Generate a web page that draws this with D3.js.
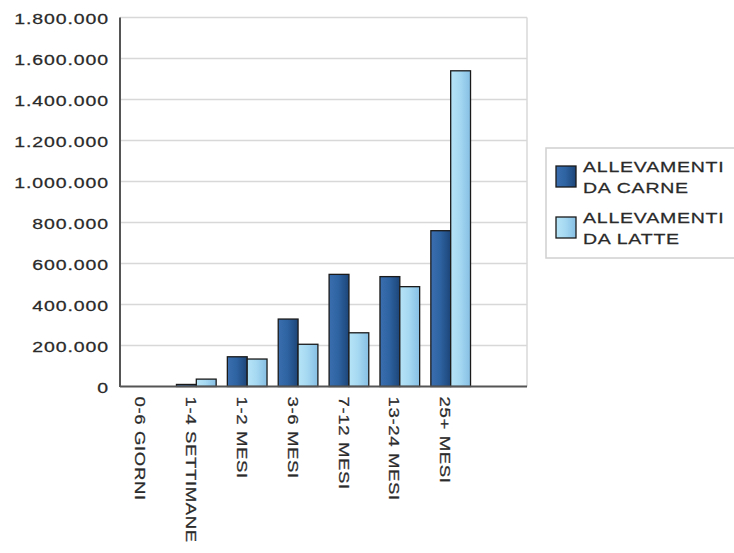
<!DOCTYPE html>
<html>
<head>
<meta charset="utf-8">
<script src="https://cdn.jsdelivr.net/npm/d3@7/dist/d3.min.js"></script>
<style>
  html, body { margin: 0; padding: 0; background: #fff; }
  svg text { font-family: "Liberation Sans", Arial, sans-serif; fill: #2a2a2a; stroke: #2a2a2a; stroke-width: 0.25; }
</style>
</head>
<body>
<svg id="chart" width="734" height="553"></svg>
<script>
// Capi bovini per classe di età
const categories = ["0-6 GIORNI", "1-4 SETTIMANE", "1-2 MESI", "3-6 MESI", "7-12 MESI", "13-24 MESI", "25+ MESI"];
const seriesNames = ["ALLEVAMENTI DA CARNE", "ALLEVAMENTI DA LATTE"];
const carne = [0, 10000, 145000, 329000, 547000, 536000, 760000];
const latte = [0, 36000, 134000, 206000, 262000, 487000, 1540000];
const yTicks = [0, 200000, 400000, 600000, 800000, 1000000, 1200000, 1400000, 1600000, 1800000];
const legendLines = [["ALLEVAMENTI", "DA CARNE"], ["ALLEVAMENTI", "DA LATTE"]];

const svg = d3.select("#chart");
const plot = { left: 120, right: 527, top: 17.5, bottom: 386.5 };
const textStretch = 1.3;

const it = d3.formatLocale({ decimal: ",", thousands: ".", grouping: [3], currency: ["€", ""] });
const fmt = it.format(",d");

// one empty slot after the last age class
const slots = categories.concat(["__"]);
const x = d3.scaleBand().domain(slots).range([plot.left, plot.right]).padding(0);
const xInner = d3.scaleBand().domain(seriesNames).range([0, x.bandwidth() * 0.78]).padding(0);
const y = d3.scaleLinear().domain([0, 1800000]).range([plot.bottom, plot.top]);

const defs = svg.append("defs");
function grad(id, stops) {
  const g = defs.append("linearGradient").attr("id", id).attr("x1", 0).attr("x2", 1).attr("y1", 0).attr("y2", 0);
  stops.forEach(([o, c]) => g.append("stop").attr("offset", o).attr("stop-color", c));
}
grad("gCarne", [[0, "#3a6eae"], [0.45, "#2f64a3"], [1, "#1c4578"]]);
grad("gLatte", [[0, "#b6e4f7"], [0.45, "#a6d9f2"], [1, "#86bfe4"]]);
const fills = ["url(#gCarne)", "url(#gLatte)"];

// grid and frame
svg.append("g").selectAll("line").data(yTicks.filter(d => d > 0)).join("line")
  .attr("x1", plot.left).attr("x2", plot.right)
  .attr("y1", d => y(d)).attr("y2", d => y(d))
  .attr("stroke", "#d8d8d8").attr("stroke-width", 1.5);
svg.append("line").attr("x1", plot.right).attr("x2", plot.right)
  .attr("y1", plot.top).attr("y2", plot.bottom)
  .attr("stroke", "#d8d8d8").attr("stroke-width", 1.5);

// y axis labels
const yAxis = d3.axisLeft(y).tickValues(yTicks).tickFormat(fmt).tickSize(0).tickPadding(0);
const gy = svg.append("g").attr("transform", `translate(${plot.left - 11},0)`).call(yAxis);
gy.select(".domain").remove();
gy.selectAll("text")
  .attr("font-size", 15).attr("letter-spacing", 0.7).attr("fill", null)
  .attr("font-family", null)
  .attr("transform", `scale(${textStretch},1)`)
  .attr("x", 0).attr("dy", "0.38em");

// bars
const groups = svg.append("g").selectAll("g").data(categories).join("g")
  .attr("transform", c => `translate(${x(c) + x.bandwidth() * 0.11},0)`);
groups.selectAll("rect").data((c, i) => [carne[i], latte[i]].map((v, s) => ({ v, s })))
  .join("rect")
  .filter(d => d.v > 0)
  .attr("x", d => xInner(seriesNames[d.s]))
  .attr("width", xInner.bandwidth())
  .attr("y", d => y(d.v))
  .attr("height", d => y(0) - y(d.v))
  .attr("fill", d => fills[d.s])
  .attr("stroke", "#1a1a1a").attr("stroke-width", 1.3);

// axes lines
svg.append("line").attr("x1", plot.left).attr("x2", plot.left)
  .attr("y1", plot.top).attr("y2", plot.bottom + 0.5)
  .attr("stroke", "#555").attr("stroke-width", 2);
svg.append("line").attr("x1", plot.left).attr("x2", plot.right)
  .attr("y1", plot.bottom).attr("y2", plot.bottom)
  .attr("stroke", "#555").attr("stroke-width", 2);

// x axis labels, rotated
const xAxis = d3.axisBottom(x).tickValues(categories).tickSize(0).tickPadding(0);
const gx = svg.append("g").attr("transform", `translate(0,${plot.bottom + 10})`).call(xAxis);
gx.select(".domain").remove();
gx.selectAll("text")
  .attr("font-size", 15).attr("letter-spacing", 0.5).attr("fill", null)
  .attr("font-family", null)
  .attr("text-anchor", "start")
  .attr("x", 0).attr("y", 0).attr("dy", "0.36em")
  .attr("transform", `translate(-5,0) rotate(90) scale(1.24,1)`);

// legend
const lg = svg.append("g").attr("transform", "translate(546,148)");
lg.append("rect").attr("x", 0).attr("y", 0).attr("width", 200).attr("height", 110)
  .attr("fill", "#fff").attr("stroke", "#d0d0d0").attr("stroke-width", 1.5);
const items = lg.selectAll("g.item").data(seriesNames).join("g").attr("class", "item")
  .attr("transform", (d, i) => `translate(0,${18 + i * 51})`);
items.append("rect").attr("x", 10).attr("y", 0).attr("width", 20).attr("height", 21)
  .attr("fill", (d, i) => fills[i]).attr("stroke", "#1a1a1a").attr("stroke-width", 1.3);
items.each(function (d, i) {
  const t = d3.select(this).append("text")
    .attr("font-size", 15.5).attr("letter-spacing", 0.6)
    .attr("transform", `translate(37,0) scale(${textStretch * 0.97},1)`);
  legendLines[i].forEach((ln, k) => t.append("tspan").attr("x", 0).attr("y", 5.5 + k * 22).text(ln));
});
</script>
</body>
</html>
